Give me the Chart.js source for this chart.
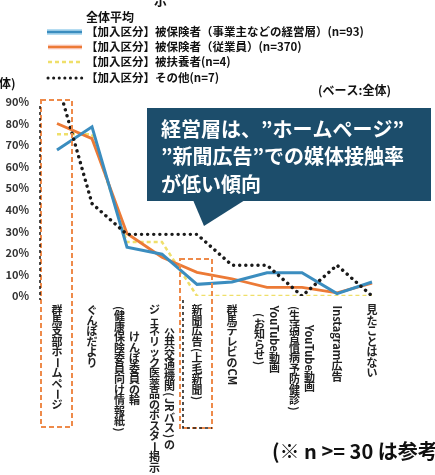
<!DOCTYPE html>
<html><head><meta charset="utf-8">
<script src="https://cdn.jsdelivr.net/npm/chart.js@4/dist/chart.umd.min.js"></script>
<style>html,body{margin:0;padding:0;background:#fff;}canvas{display:block;}</style>
</head><body>
<canvas id="c" width="435" height="475"></canvas>
<script>
// ---- data ----
const categories = [
  ['群馬支部ホームページ'],
  ['ぐんぽだより'],
  ['けんぽ委員の輪', '（健康保険委員向け情報紙）'],
  ['公共交通機関（JRバス）の', 'ジェネリック医薬品のポスター掲示'],
  ['新聞広告（上毛新聞）'],
  ['群馬テレビのCM'],
  ['YouTube動画', '（お知らせ）'],
  ['YouTube動画', '（生活習慣病予防健診）'],
  ['Instagram広告'],
  ['見たことはない']
];
const legendTitle = '全体平均';
const seriesNames = [
  '【加入区分】被保険者（事業主などの経営層）(n=93)',
  '【加入区分】被保険者（従業員）(n=370)',
  '【加入区分】被扶養者(n=4)',
  '【加入区分】その他(n=7)'
];
const keieisou   = [67.7, 78.5, 22.6, 19.4, 5.4, 6.5, 10.8, 10.8, 1.1, 6.5];
const juugyouin  = [80, 73, 29, 18, 11, 8, 4, 4, 1.5, 6];
const hifuyousha = [75, 75, 25, 25, 0, 0, 0, 0, 0, 0];
const sonota     = [100, 42.9, 28.6, 28.6, 28.6, 14.3, 14.3, 0, 14.3, 0];
const yTickValues = [0, 10, 20, 30, 40, 50, 60, 70, 80, 90];
const calloutLines = ['経営層は、”ホームページ”', '”新聞広告”での媒体接触率', 'が低い傾向'];
const baseNote = '(ベース:全体)';
const footNote = '(※ n >= 30 は参考値)';

const FONT = '"Noto Sans CJK JP", "Noto Sans", sans-serif';
const COLORS = {blue:'#3b8dbf', orange:'#ec7a36', yellow:'#efdf6a', black:'#1a1a1a'};

function segs(ctx, text, adv) {
  const out = [];
  let i = 0;
  while (i < text.length) {
    const ch = text[i];
    if (/[\x21-\x7E]/.test(ch) && ch !== '(' && ch !== ')') {
      let j = i; while (j < text.length && /[\x21-\x7E]/.test(text[j]) && text[j] !== '(' && text[j] !== ')') j++;
      const t = text.slice(i, j);
      out.push({t, rot:true, w: ctx.measureText(t).width + 1});
      i = j;
    } else if (ch === '（' || ch === '(' ) { out.push({t:'(', rot:true, w:6}); i++; }
    else if (ch === '）' || ch === ')') { out.push({t:')', rot:true, w:6}); i++; }
    else if (ch === 'ー') { out.push({t:'ー', rot:true, w:adv}); i++; }
    else { out.push({t:ch, rot:false, w:adv}); i++; }
  }
  return out;
}
function colLen(s){ return s.reduce((a,b)=>a+b.w,0); }

const decor = {
  id:'decor',
  afterDraw(chart) {
    const ctx = chart.ctx;
    const xs = chart.scales.x;
    ctx.save();
    // x labels vertical
    const fs = 11, adv = 10.5, top = 305, colGap = 15;
    ctx.font = 'bold ' + fs + 'px ' + FONT;
    ctx.fillStyle = '#222';
    ctx.textAlign = 'center'; ctx.textBaseline = 'middle';
    categories.forEach((cols, i) => {
      const cx = xs.getPixelForValue(i);
      const S = cols.map(c => segs(ctx, c, adv));
      const L = Math.max(...S.map(colLen));
      S.forEach((s, k) => {
        const x = cx + (cols.length - 1) / 2 * colGap - k * colGap;
        let y = top + (L - colLen(s)) / 2;
        s.forEach(g => {
          if (g.rot) {
            ctx.save(); ctx.translate(x, y + g.w / 2); ctx.rotate(Math.PI / 2);
            ctx.fillText(g.t, 0, 0); ctx.restore();
          } else ctx.fillText(g.t, x, y + g.w / 2);
          y += g.w;
        });
      });
    });
    // dashed boxes
    ctx.lineWidth = 2; ctx.strokeStyle = '#ee8a4a'; ctx.setLineDash([5, 3]);
    ctx.strokeRect(41, 100, 31, 327);
    ctx.strokeRect(180, 259, 32, 169);
    ctx.strokeStyle = '#222'; ctx.lineWidth = 1.6; ctx.setLineDash([3, 3]);
    ctx.beginPath(); ctx.moveTo(40, 106); ctx.lineTo(40, 300); ctx.stroke();
    ctx.beginPath(); ctx.moveTo(183, 300); ctx.lineTo(183, 428); ctx.lineTo(212, 428); ctx.stroke();
    ctx.setLineDash([]);
    // callout
    ctx.fillStyle = '#1c4d6b';
    ctx.fillRect(147, 108, 284, 93);
    ctx.beginPath(); ctx.moveTo(193, 200); ctx.lineTo(204, 226); ctx.lineTo(245, 200); ctx.closePath(); ctx.fill();
    ctx.fillStyle = '#ffffff'; ctx.font = 'bold 20px ' + FONT;
    ctx.textAlign = 'left'; ctx.textBaseline = 'middle';
    calloutLines.forEach((t, i) => ctx.fillText(t, 161, 129 + i * 27.5));
    // legend
    ctx.fillStyle = '#111'; ctx.font = 'bold 12px ' + FONT;
    ctx.fillText(legendTitle, 86, 17);
    ctx.font = 'bold 11.5px ' + FONT;
    const ly = [32, 47, 62, 78];
    seriesNames.forEach((t, i) => { ctx.fillStyle = '#111'; ctx.fillText(t, 86, ly[i]); });
    ctx.lineCap = 'butt';
    ctx.strokeStyle = 'rgba(150,205,235,0.7)'; ctx.lineWidth = 6;
    ctx.beginPath(); ctx.moveTo(47, ly[0]); ctx.lineTo(82, ly[0]); ctx.stroke();
    ctx.strokeStyle = COLORS.blue; ctx.lineWidth = 2.5;
    ctx.beginPath(); ctx.moveTo(47, ly[0]); ctx.lineTo(82, ly[0]); ctx.stroke();
    ctx.strokeStyle = 'rgba(250,190,180,0.6)'; ctx.lineWidth = 5;
    ctx.beginPath(); ctx.moveTo(48, ly[1]); ctx.lineTo(82, ly[1]); ctx.stroke();
    ctx.strokeStyle = COLORS.orange; ctx.lineWidth = 2.5;
    ctx.beginPath(); ctx.moveTo(48, ly[1]); ctx.lineTo(82, ly[1]); ctx.stroke();
    ctx.strokeStyle = COLORS.yellow; ctx.lineWidth = 2.5; ctx.setLineDash([4, 3]);
    ctx.beginPath(); ctx.moveTo(48, ly[2]); ctx.lineTo(82, ly[2]); ctx.stroke();
    ctx.strokeStyle = COLORS.black; ctx.lineWidth = 3; ctx.lineCap = 'round'; ctx.setLineDash([0.1, 5.5]);
    ctx.beginPath(); ctx.moveTo(48, ly[3]); ctx.lineTo(82, ly[3]); ctx.stroke();
    ctx.setLineDash([]);
    // other texts
    ctx.fillStyle = '#111'; ctx.font = 'bold 12px ' + FONT; ctx.textBaseline = 'middle';
    ctx.fillText(baseNote, 318, 90);
    ctx.fillText('体)', -1, 83);
    ctx.font = 'bold 13px ' + FONT;
    ctx.fillText('示', 154, 0);
    ctx.font = 'bold 20px ' + FONT;
    ctx.fillText(footNote, 272, 451);
    ctx.restore();
  }
};

new Chart(document.getElementById('c'), {
  type: 'line',
  data: {
    labels: categories.map(c => c.join('')),
    datasets: [
      {label: seriesNames[0], data: keieisou, borderColor: COLORS.blue, borderWidth: 3, pointRadius: 0, order: 1},
      {label: seriesNames[1], data: juugyouin, borderColor: COLORS.orange, borderWidth: 2.8, pointRadius: 0, order: 2},
      {label: seriesNames[2], data: hifuyousha, borderColor: COLORS.yellow, borderWidth: 2.5, borderDash: [4, 3], pointRadius: 0, order: 3},
      {label: seriesNames[3], data: sonota, borderColor: COLORS.black, borderWidth: 3.4, borderDash: [0.1, 6], borderCapStyle: 'round', pointRadius: 0, order: 0}
    ]
  },
  options: {
    responsive: false, animation: false,
    layout: {padding: {top: 102, right: 63, left: 0, bottom: 0}},
    plugins: {legend: {display: false}, tooltip: {enabled: false}},
    scales: {
      x: {offset: false, grid: {display: false, drawTicks: false}, border: {display: false},
          ticks: {display: false}, afterFit(s) { s.height = 179; }},
      y: {min: 0, max: 90, grid: {display: false, drawTicks: false}, border: {display: false},
          afterBuildTicks(s) { s.ticks = yTickValues.map(v => ({value: v})); },
          ticks: {padding: 28, color: '#333', font: {family: FONT, size: 11, weight: 'bold'}, callback: v => v + '%'},
          afterFit(s) { s.width = 57; }}
    }
  },
  plugins: [decor]
});
</script>
</body></html>
